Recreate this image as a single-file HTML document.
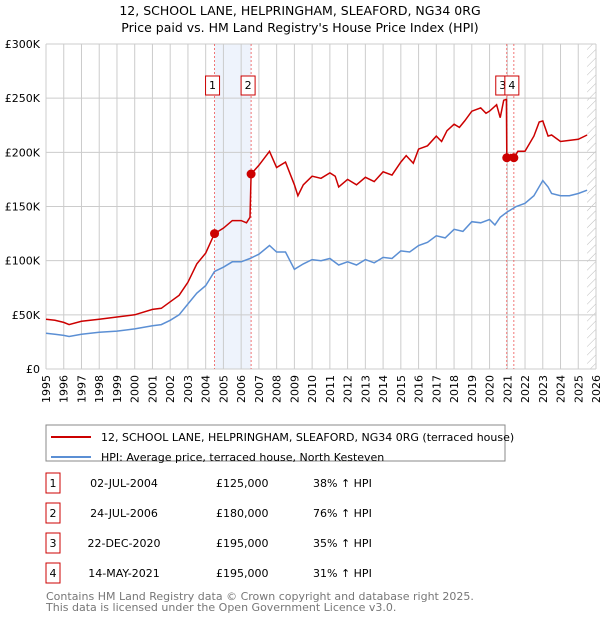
<!DOCTYPE html>
<html><head><meta charset="utf-8"><style>
body{margin:0;background:#fff;font-family:"DejaVu Sans","Liberation Sans",sans-serif}
svg text{font-family:"DejaVu Sans","Liberation Sans",sans-serif}
</style></head><body>
<svg id="c" width="600" height="620" xmlns="http://www.w3.org/2000/svg">
<text x="300" y="15" text-anchor="middle" font-size="12.5">12, SCHOOL LANE, HELPRINGHAM, SLEAFORD, NG34 0RG</text>
<text x="300" y="32" text-anchor="middle" font-size="12.5">Price paid vs. HM Land Registry's House Price Index (HPI)</text>
<defs><pattern id="h" width="6" height="6" patternUnits="userSpaceOnUse" patternTransform="rotate(45)"><line x1="0" y1="0" x2="0" y2="6" stroke="#bbb" stroke-width="1"/></pattern></defs>
<g id="grid"></g><g id="plot"></g>
<g>
<rect x="46" y="425" width="459" height="36" fill="#fff" stroke="#888"/>
<line x1="51" y1="437" x2="91" y2="437" stroke="#cc0000" stroke-width="2"/>
<text x="101" y="441" font-size="11">12, SCHOOL LANE, HELPRINGHAM, SLEAFORD, NG34 0RG (terraced house)</text>
<line x1="51" y1="457" x2="91" y2="457" stroke="#5b8fd4" stroke-width="2"/>
<text x="101" y="461" font-size="11">HPI: Average price, terraced house, North Kesteven</text>
</g>
<g id="table" font-size="11"></g>
<text x="46" y="600" font-size="11" fill="#777">Contains HM Land Registry data © Crown copyright and database right 2025.</text>
<text x="46" y="611" font-size="11" fill="#777">This data is licensed under the Open Government Licence v3.0.</text>
</svg>
<script>
const hpiYears=[1995,1995.5,1996,1996.3,1997,1998,1999,2000,2001,2001.5,2002,2002.5,2003,2003.5,2004,2004.5,2005,2005.5,2006,2006.5,2007,2007.6,2008,2008.5,2009,2009.5,2010,2010.5,2011,2011.5,2012,2012.5,2013,2013.5,2014,2014.5,2015,2015.5,2016,2016.5,2017,2017.5,2018,2018.5,2019,2019.5,2020,2020.3,2020.6,2021,2021.5,2022,2022.5,2023,2023.3,2023.5,2024,2024.5,2025,2025.5];
const hpiValues=[33,32,31,30,32,34,35,37,40,41,45,50,60,70,77,90,94,99,99,102,106,114,108,108,92,97,101,100,102,96,99,96,101,98,103,102,109,108,114,117,123,121,129,127,136,135,138,133,140,145,150,153,160,174,168,162,160,160,162,165];
const priceYears=[1995,1995.5,1996,1996.3,1997,1998,1999,2000,2001,2001.5,2002,2002.5,2003,2003.5,2004,2004.5,2005,2005.5,2006,2006.3,2006.5,2006.56,2007,2007.6,2008,2008.5,2009,2009.2,2009.5,2010,2010.5,2011,2011.3,2011.5,2012,2012.5,2013,2013.5,2014,2014.5,2015,2015.3,2015.7,2016,2016.5,2017,2017.3,2017.6,2018,2018.3,2018.6,2019,2019.5,2019.8,2020,2020.4,2020.6,2020.8,2020.95,2020.97,2021.2,2021.37,2021.6,2022,2022.5,2022.8,2023,2023.3,2023.5,2024,2024.5,2025,2025.5];
const priceValues=[46,45,43,41,44,46,48,50,55,56,62,68,80,97,107,125,130,137,137,135,140,180,188,201,186,191,170,160,170,178,176,181,178,168,175,170,177,173,182,179,191,197,190,203,206,215,210,220,226,223,229,238,241,236,238,244,232,248,249,195,198,195,201,201,215,228,229,215,216,210,211,212,216];
const saleLabels=["1","2","3","4"];
const saleYears=[2004.5,2006.56,2020.97,2021.37];
const saleValues=[125,180,195,195];
const saleDates=["02-JUL-2004","24-JUL-2006","22-DEC-2020","14-MAY-2021"];
const salePrices=["£125,000","£180,000","£195,000","£195,000"];
const saleHpi=["38% ↑ HPI","76% ↑ HPI","35% ↑ HPI","31% ↑ HPI"];
const yTicks=[0,50,100,150,200,250,300];
const yTickLabels=["£0","£50K","£100K","£150K","£200K","£250K","£300K"];
const x0=46,x1=596,yTop=44,yBot=369;
const X=y=>x0+(y-1995)/(2026-1995)*(x1-x0);
const Y=v=>yBot-v/300*(yBot-yTop);
const NS="http://www.w3.org/2000/svg";
function mk(p,t,a){const e=document.createElementNS(NS,t);for(const k in a)e.setAttribute(k,a[k]);p.appendChild(e);return e;}
const g=document.getElementById('grid'),pl=document.getElementById('plot'),tb=document.getElementById('table');
let e=mk(g,'rect',{x:X(saleYears[0]),y:yTop,width:X(saleYears[1])-X(saleYears[0]),height:yBot-yTop,fill:'#eef3fc'});


e=mk(g,'rect',{x:X(2025.5),y:yTop,width:x1-X(2025.5),height:yBot-yTop,fill:'url(#h)'});


for(let yr=1995;yr<=2026;yr++){
 e=mk(g,'line',{x1:X(yr),x2:X(yr),y1:yTop,y2:yBot,stroke:'#ccc'});
 
 
 const t=mk(g,'text',{x:0,y:0,'font-size':11,'text-anchor':'end',transform:`translate(${X(yr)+4},${yBot+6}) rotate(-90)`});
 t.textContent=yr;
 
 
}
yTicks.forEach((v,i)=>{
 e=mk(g,'line',{x1:x0,x2:x1,y1:Y(v),y2:Y(v),stroke:'#ccc'});
 
 
 const t=mk(g,'text',{x:40,y:Y(v)+4,'font-size':11,'text-anchor':'end'});
 t.textContent=yTickLabels[i];
 
 
});
saleYears.forEach((s,i)=>{
 e=mk(g,'line',{x1:X(s),x2:X(s),y1:yTop,y2:yBot,stroke:'#e55','stroke-dasharray':'2,2','stroke-width':0.8});
 
 
});
const path=(xs,vs)=>xs.map((x,i)=>(i?'L':'M')+X(x).toFixed(1)+','+Y(vs[i]).toFixed(1)).join('');
e=mk(pl,'path',{d:path(hpiYears,hpiValues),fill:'none',stroke:'#5b8fd4','stroke-width':1.5});


e=mk(pl,'path',{d:path(priceYears,priceValues),fill:'none',stroke:'#cc0000','stroke-width':1.5});


const boxOff=[-2,-3,-4,-2];
saleYears.forEach((s,i)=>{
 e=mk(pl,'circle',{cx:X(s),cy:Y(saleValues[i]),r:4.5,fill:'#cc0000'});
 
 
 const bx=X(s)+boxOff[i];
 const b=mk(pl,'rect',{x:bx-7,y:76,width:14,height:19,fill:'#fff',stroke:'#cc0000'});
 
 
 const t=mk(pl,'text',{x:bx,y:89,'font-size':11,'text-anchor':'middle'});
 t.textContent=saleLabels[i];
 
 
 const ry=473+i*30;
 const r=mk(tb,'rect',{x:46,y:ry,width:14,height:20,fill:'#fff',stroke:'#cc0000'});
 
 
 const cols=[[53,saleLabels[i],'middle'],[124,saleDates[i],'middle'],[216,salePrices[i],'start'],[313,saleHpi[i],'start']];
 cols.forEach(c=>{const tt=mk(tb,'text',{x:c[0],y:ry+14,'text-anchor':c[2]});tt.textContent=c[1];
  
  });
});
</script>
</body></html>
